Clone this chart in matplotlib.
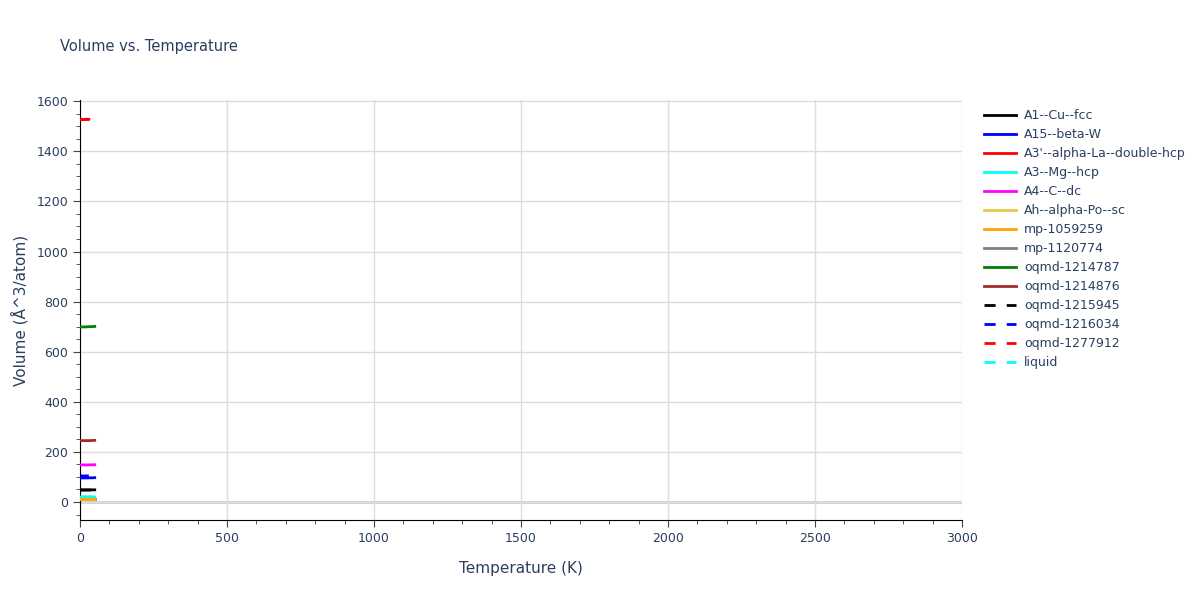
import matplotlib.pyplot as plt
from matplotlib.ticker import MultipleLocator

# temperatures (K) for each phase curve
temps_long = [0, 10, 20, 30, 40, 50]
temps_short = [0, 10, 20, 30]

names = ['A1--Cu--fcc', 'A15--beta-W', "A3'--alpha-La--double-hcp", 'A3--Mg--hcp',
         'A4--C--dc', 'Ah--alpha-Po--sc', 'mp-1059259', 'mp-1120774',
         'oqmd-1214787', 'oqmd-1214876', 'oqmd-1215945', 'oqmd-1216034',
         'oqmd-1277912', 'liquid']
colors = ['black', 'blue', 'red', 'cyan', 'magenta', '#e6c84a', 'orange', 'gray',
          'green', 'brown', 'black', 'blue', 'red', 'cyan']
dashed = [False] * 10 + [True] * 4

# volumes (A^3/atom)
vol_a1 = [48, 48, 48, 48, 48.5, 48.5]
vol_a15 = [96, 96, 96, 96.5, 96.5, 97]
vol_a3p = [1527, 1527, 1528, 1528]
vol_a3 = [20, 20, 20, 20, 20.5, 20.5]
vol_a4 = [148, 148, 148, 148, 148.5, 148.5]
vol_ah = [10, 10, 10, 10, 10.5, 10.5]
vol_mp1059259 = [11, 11, 11, 11, 11.5, 11.5]
vol_mp1120774 = [10, 10, 10, 10, 10, 10]
vol_oq1214787 = [699, 699, 699, 700, 700, 701]
vol_oq1214876 = [245, 245, 245, 245, 245.5, 246]
vol_oq1215945 = [48, 48, 48, 48, 48.5, 48.5]
vol_oq1216034 = [104, 104, 104, 104.5]
vol_oq1277912 = [1527, 1527, 1528, 1528]
vol_liquid = [20, 20, 20, 20, 20.5, 20.5]

series = [vol_a1, vol_a15, vol_a3p, vol_a3, vol_a4, vol_ah, vol_mp1059259,
          vol_mp1120774, vol_oq1214787, vol_oq1214876, vol_oq1215945,
          vol_oq1216034, vol_oq1277912, vol_liquid]

txt = '#2a3f5f'
fig = plt.figure(figsize=(12, 6), dpi=100)
ax = fig.add_axes([0.0667, 0.1333, 0.735, 0.7])

for i, (name, col, dash, vals) in enumerate(zip(names, colors, dashed, series)):
    t = temps_long if len(vals) == len(temps_long) else temps_short
    z = 2 if dash else 3
    if name == 'mp-1120774':
        z = 1.5
    ax.plot(t, vals, color=col, lw=2, ls=(0, (4, 4)) if dash else '-',
            label=name, zorder=z)

ax.set_xlim(0, 3000)
ax.set_ylim(-72, 1605)
ax.xaxis.set_major_locator(MultipleLocator(500))
ax.xaxis.set_minor_locator(MultipleLocator(100))
ax.yaxis.set_major_locator(MultipleLocator(200))
ax.yaxis.set_minor_locator(MultipleLocator(50))
ax.grid(True, which='major', color='#dcdcdc', lw=1)
ax.axhline(0, color='#cccccc', lw=2, zorder=0.5)
ax.set_axisbelow(True)
for s in ['top', 'right']:
    ax.spines[s].set_visible(False)
for s in ['left', 'bottom']:
    ax.spines[s].set_color('black')
ax.tick_params(which='major', length=5, color='#444444', labelsize=9, labelcolor=txt)
ax.tick_params(which='minor', length=3, color='#444444')

ax.set_xlabel('Temperature (K)', fontsize=11, color=txt, labelpad=12)
ax.set_ylabel('Volume (Å^3/atom)', fontsize=11, color=txt, labelpad=6)
fig.text(0.05, 0.915, 'Volume vs. Temperature', fontsize=10.5, color=txt)

leg = ax.legend(loc='upper left', bbox_to_anchor=(1.012, 1.005), frameon=False,
                fontsize=9, labelcolor=txt, handlelength=2.6, labelspacing=0.48,
                handletextpad=0.6)

plt.savefig('out.png')
